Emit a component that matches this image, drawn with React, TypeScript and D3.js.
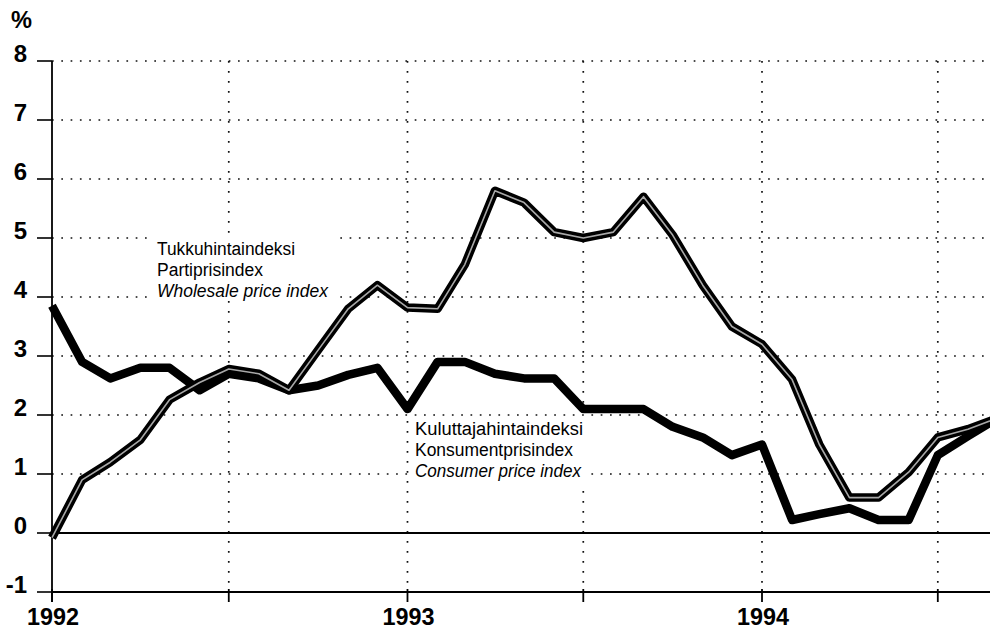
import React, { useEffect, useRef } from "react";
import * as d3 from "d3";

// monthly observations, Jan 1992 .. Sep 1994
const months = [
  "1992-01", "1992-02", "1992-03", "1992-04", "1992-05", "1992-06",
  "1992-07", "1992-08", "1992-09", "1992-10", "1992-11", "1992-12",
  "1993-01", "1993-02", "1993-03", "1993-04", "1993-05", "1993-06",
  "1993-07", "1993-08", "1993-09", "1993-10", "1993-11", "1993-12",
  "1994-01", "1994-02", "1994-03", "1994-04", "1994-05", "1994-06",
  "1994-07", "1994-08", "1994-09",
];

const consumerPrice = [
  3.85, 2.9, 2.62, 2.8, 2.8, 2.42, 2.7, 2.62, 2.42, 2.5, 2.68, 2.8,
  2.1, 2.9, 2.9, 2.7, 2.62, 2.62, 2.1, 2.1, 2.1, 1.8, 1.62, 1.32,
  1.5, 0.22, 0.32, 0.42, 0.22, 0.22, 1.32, 1.64, 1.95,
];

const wholesalePrice = [
  -0.08, 0.9, 1.2, 1.58, 2.26, 2.55, 2.78, 2.7, 2.42, 3.1, 3.8, 4.2,
  3.82, 3.8, 4.55, 5.8, 5.6, 5.1, 5.0, 5.1, 5.7, 5.05, 4.2, 3.5,
  3.2, 2.6, 1.5, 0.6, 0.6, 1.03, 1.62, 1.76, 1.95,
];

const yTicks = [-1, 0, 1, 2, 3, 4, 5, 6, 7, 8];
const yearTicks = ["1992-01", "1993-01", "1994-01"];
const yearLabels = ["1992", "1993", "1994"];
const halfYearTicks = ["1992-07", "1993-07", "1994-07"];

const wholesaleLabel = ["Tukkuhintaindeksi", "Partiprisindex", "Wholesale price index"];
const consumerLabel = ["Kuluttajahintaindeksi", "Konsumentprisindex", "Consumer price index"];

function App() {
  const svgRef = useRef<SVGSVGElement>(null);
  const width = 990;
  const height = 630;
  const left = 52;
  const right = 990;

  useEffect(() => {
    const svg = d3.select(svgRef.current);
    svg.selectAll("*").remove();

    const parse = d3.timeParse("%Y-%m");
    const dates = months.map((m) => parse(m) as Date);

    const x = d3
      .scaleTime()
      .domain([parse("1992-01") as Date, parse("1994-01") as Date])
      .range([left, 762]);
    const y = d3.scaleLinear().domain([-1, 8]).range([592, 61]);

    const axisFont = "'Liberation Sans', Arial, sans-serif";
    const labelFont = "'Liberation Sans Narrow', 'Arial Narrow', 'Liberation Sans', sans-serif";

    // dotted horizontal grid
    svg
      .append("g")
      .selectAll("line")
      .data(yTicks.filter((t) => t > 0))
      .enter()
      .append("line")
      .attr("x1", left)
      .attr("x2", right)
      .attr("y1", (d) => y(d))
      .attr("y2", (d) => y(d))
      .attr("stroke", "#111")
      .attr("stroke-width", 1.7)
      .attr("stroke-dasharray", "1.7,7.6");

    // dotted vertical grid (year + mid-year)
    const vTicks = [...yearTicks.slice(1), ...halfYearTicks].map((m) => parse(m) as Date);
    svg
      .append("g")
      .selectAll("line")
      .data(vTicks)
      .enter()
      .append("line")
      .attr("x1", (d) => x(d))
      .attr("x2", (d) => x(d))
      .attr("y1", y(8))
      .attr("y2", y(-1))
      .attr("stroke", "#111")
      .attr("stroke-width", 1.7)
      .attr("stroke-dasharray", "1.7,8.3");

    // solid lines at 0 and -1
    svg
      .append("g")
      .selectAll("line")
      .data([0, -1])
      .enter()
      .append("line")
      .attr("x1", left)
      .attr("x2", right)
      .attr("y1", (d) => y(d))
      .attr("y2", (d) => y(d))
      .attr("stroke", "#000")
      .attr("stroke-width", 1.8);

    // y axis line and ticks
    svg
      .append("line")
      .attr("x1", left)
      .attr("x2", left)
      .attr("y1", y(8))
      .attr("y2", y(-1) + 10)
      .attr("stroke", "#000")
      .attr("stroke-width", 1.8);

    svg
      .append("g")
      .selectAll("line")
      .data(yTicks)
      .enter()
      .append("line")
      .attr("x1", left - 15)
      .attr("x2", left)
      .attr("y1", (d) => y(d))
      .attr("y2", (d) => y(d))
      .attr("stroke", "#000")
      .attr("stroke-width", 1.6);

    svg
      .append("g")
      .selectAll("text")
      .data(yTicks)
      .enter()
      .append("text")
      .attr("x", 27)
      .attr("y", (d) => y(d) + 1)
      .attr("text-anchor", "end")
      .attr("font-family", axisFont)
      .attr("font-weight", "bold")
      .attr("font-size", 24)
      .text((d) => String(d));

    svg
      .append("text")
      .attr("x", 11)
      .attr("y", 28)
      .attr("font-family", axisFont)
      .attr("font-weight", "bold")
      .attr("font-size", 23)
      .attr("textLength", 21)
      .attr("lengthAdjust", "spacingAndGlyphs")
      .text("%");

    // x ticks (every half year)
    svg
      .append("g")
      .selectAll("line")
      .data([...yearTicks, ...halfYearTicks].map((m) => parse(m) as Date))
      .enter()
      .append("line")
      .attr("x1", (d) => x(d))
      .attr("x2", (d) => x(d))
      .attr("y1", y(-1) - 3)
      .attr("y2", y(-1) + 10)
      .attr("stroke", "#000")
      .attr("stroke-width", 1.8);

    svg
      .append("g")
      .selectAll("text")
      .data(yearTicks)
      .enter()
      .append("text")
      .attr("x", (d) => x(parse(d) as Date) + 1)
      .attr("y", 625)
      .attr("text-anchor", "middle")
      .attr("font-family", axisFont)
      .attr("font-weight", "bold")
      .attr("font-size", 24)
      .attr("textLength", 52)
      .attr("lengthAdjust", "spacingAndGlyphs")
      .text((d, i) => yearLabels[i]);

    // label boxes
    const drawLabel = (lines: string[], lx: number, ly: number, widths: number[], box: number[]) => {
      const g = svg.append("g");
      g.append("rect")
        .attr("x", box[0])
        .attr("y", box[1])
        .attr("width", box[2])
        .attr("height", box[3])
        .attr("fill", "#fff");
      lines.forEach((t, i) => {
        g.append("text")
          .attr("x", lx)
          .attr("y", ly + i * 20.8)
          .attr("font-family", labelFont)
          .attr("font-size", 18)
          .attr("font-style", i === 2 ? "italic" : "normal")
          .attr("textLength", widths[i])
          .attr("lengthAdjust", "spacingAndGlyphs")
          .text(t);
      });
    };
    drawLabel(wholesaleLabel, 157, 255, [138, 106, 171], [153, 236, 180, 65]);
    drawLabel(consumerLabel, 415, 435, [168, 158, 166], [413, 416, 172, 67]);

    // series
    const line = d3
      .line<number>()
      .x((d, i) => x(dates[i]))
      .y((d) => y(d));

    svg
      .append("path")
      .attr("d", line(consumerPrice))
      .attr("fill", "none")
      .attr("stroke", "#000")
      .attr("stroke-width", 8.5)
      .attr("stroke-linejoin", "round");

    svg
      .append("path")
      .attr("d", line(wholesalePrice))
      .attr("fill", "none")
      .attr("stroke", "#000")
      .attr("stroke-width", 8.5)
      .attr("stroke-linejoin", "round");

    svg
      .append("path")
      .attr("d", line(wholesalePrice))
      .attr("fill", "none")
      .attr("stroke", "#a8a8a8")
      .attr("stroke-width", 1.6)
      .attr("stroke-linejoin", "round");
  }, []);

  return (
    <svg
      ref={svgRef}
      width={width}
      height={height}
      style={{ position: "absolute", left: 0, top: 0, background: "#fff" }}
    ></svg>
  );
}

export default App;
